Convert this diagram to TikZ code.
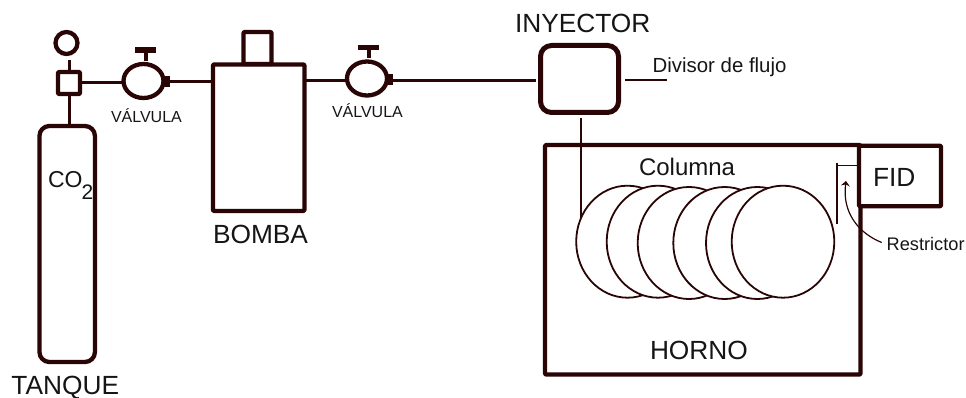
\documentclass[tikz,border=0pt]{standalone}
\usepackage{fontspec}
\setmainfont{Liberation Sans}
\usetikzlibrary{shapes.geometric,arrows.meta}
\definecolor{ink}{HTML}{2A0505}
\definecolor{txt}{HTML}{151515}
\newcommand{\fs}[1]{\fontsize{#1}{#1}\selectfont}
\tikzset{
  x=1pt,y=-1pt,
  every node/.style={inner sep=0pt,outer sep=0pt},
  heavy/.style={draw=ink,line width=4.3pt,line join=round,fill=white},
  pipe/.style={draw=ink,line width=3pt},
  thin pipe/.style={draw=ink,line width=1.2pt},
  valvebody/.style={ellipse,heavy,minimum width=40pt,minimum height=34pt},
  nubbox/.style={rectangle,fill=ink,minimum width=6pt,minimum height=11pt},
  stembar/.style={rectangle,fill=ink,minimum width=21pt,minimum height=5.5pt},
  coil/.style={ellipse,draw=ink,line width=1.8pt,fill=white,minimum width=102.6pt,minimum height=112pt},
  lbl/.style={anchor=base west,text=txt},
  big/.style={lbl,font=\fs{26.3}},
  small/.style={lbl,font=\fs{16}},
}
\begin{document}
\begin{tikzpicture}
\useasboundingbox (0,0) rectangle (966,398);
% tank side
\node[rectangle,heavy,rounded corners=10pt,minimum width=55.5pt,minimum height=236pt] (tank) at (67.2,244) {};
\node[circle,heavy,minimum size=22pt] (gauge) at (66.5,43) {};
\node[rectangle,heavy,rounded corners=1pt,minimum size=22pt] (reg) at (69,83) {};
\draw[pipe] (reg.north) -- ++(0,-12) coordinate (gaugefoot);
\draw[pipe] (reg.south) -- (reg.south |- tank.north);
% valve 1
\node[valvebody] (v1) at (143.5,81) {};
\node[nubbox] (n1) at (167,81.5) {};
\node[stembar] (t1) at (145.5,50) {};
\draw[pipe,line width=4pt] (t1.south) -- ++(0,8);
\draw[pipe] (reg.east) -- (reg.east -| v1.west);
% pump
\node[rectangle,heavy,rounded corners=1pt,minimum width=91.5pt,minimum height=146.5pt] (bomba) at (258.7,137.7) {};
\node[rectangle,heavy,rounded corners=1pt,minimum width=28pt,minimum height=32pt] (cap) at (257.5,48) {};
\draw[pipe] (n1.east) -- (n1.east -| bomba.west);
% valve 2
\node[valvebody] (v2) at (367,78.5) {};
\node[nubbox] (n2) at (390,79.5) {};
\node[stembar] (t2) at (368.5,47.3) {};
\draw[pipe,line width=4pt] (t2.south) -- ++(0,8);
\draw[pipe] (bomba.east |- 0,81) -- (bomba.east |- 0,81 -| v2.west);
% injector
\node[rectangle,heavy,line width=5pt,rounded corners=11pt,minimum width=78pt,minimum height=67pt] (inj) at (579.5,79) {};
\coordinate (injleft) at (536,80.5);
\draw[pipe] (n2.east |- injleft) -- (injleft);
\coordinate (divend) at (666.7,80);
\draw[thin pipe] (625,80) -- (divend);
% oven
\node[rectangle,heavy,rounded corners=1pt,fill=none,minimum width=315.5pt,minimum height=229.5pt] (horno) at (702.8,259.8) {};
\coordinate (colin) at (581,118);
\draw[draw=ink,line width=1.8pt] (colin) -- (581,220) coordinate (colend);
\node[coil] (c1) at (627.5,241.7) {};
\node[coil] (c2) at (658,241.7) {};
\node[coil] (c3) at (689,243) {};
\node[coil] (c4) at (724.6,243) {};
\node[coil] (c5) at (757.3,243) {};
\node[coil] (c6) at (783,241.7) {};
% FID
\node[rectangle,heavy,rounded corners=1pt,minimum width=82pt,minimum height=60.5pt] (fid) at (900,176) {};
\draw[draw=ink,line width=1.6pt] (836.7,163) coordinate (rtop) -- (836.7,224);
\draw[draw=ink,line width=.8pt] (836.7,165) -- (fid.west |- 0,165);
% labels
\node[big] (lt) at (11.5,394) {TANQUE};
\node[big] (lb) at (213,243) {BOMBA};
\node[big] (li) at (515,33) {INYECTOR};
\node[big] (lh) at (650,359) {HORNO};
\node[big] (lf) at (873,186.7) {FID};
\node[lbl,font=\fs{24}] (lc) at (639,175.7) {Columna};
\node[lbl,font=\fs{20.4}] (ld) at (652.7,73) {Divisor de flujo};
\node[lbl,font=\fs{18.2}] (lr) at (886.7,250) {Restrictor};
\node[small] (lv1) at (111,123) {VÁLVULA};
\node[small] (lv2) at (332,118) {VÁLVULA};
\node[lbl,font=\fs{23}] (lco) at (48,188) {CO};
\node[lbl,font=\fs{21}] (lsub) at (81.5,200) {2};
% restrictor arrow
\coordinate (rtip) at (846,181);
\draw[draw=ink,line width=1.2pt,-{Stealth[length=5pt,width=9pt]}] (lr.west) ++(-5,-1) .. controls (858,233) and (842,212) .. (rtip);
\end{tikzpicture}
\end{document}
